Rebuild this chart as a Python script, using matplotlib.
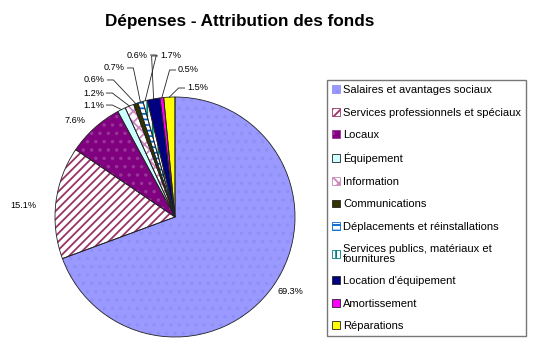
import numpy as np
import matplotlib
matplotlib.use("Agg")
import matplotlib.pyplot as plt
from matplotlib.patches import Patch

plt.rcParams['font.family'] = ['Liberation Sans', 'DejaVu Sans']
plt.rcParams['hatch.linewidth'] = 1.3

categories = ["Salaires et avantages sociaux",
              "Services professionnels et spéciaux",
              "Locaux",
              "Équipement",
              "Information",
              "Communications",
              "Déplacements et réinstallations",
              "Services publics, matériaux et\nfournitures",
              "Location d'équipement",
              "Amortissement",
              "Réparations"]
values = [69.3, 15.1, 7.6, 1.1, 1.2, 0.6, 0.7, 0.6, 1.7, 0.5, 1.5]
labels = ["69.3%", "15.1%", "7.6%", "1.1%", "1.2%", "0.6%", "0.7%",
          "0.6%", "1.7%", "0.5%", "1.5%"]

# fill, hatch, hatch colour
faces = ['#9999FF', 'white', '#800080', '#CCFFFF', 'white', '#333300',
         'white', 'white', '#000080', '#FF00FF', '#FFFF00']
hatches = ['..', '////', '..', None, 'xxx', None, '---', '|||', None, None, None]
hcolors = ['#8F8FF4', '#993366', '#973597', '#CCFFFF', '#CC88BB', '#333300',
           '#0066CC', '#008080', '#000080', '#FF00FF', '#FFFF00']

# label anchor (in pie radius units), alignment, leader line
lab_pos = [(0.85, -0.625, 'left', False), (-1.158, 0.10, 'right', False),
           (-0.742, 0.808, 'right', False), (-0.592, 0.933, 'right', True),
           (-0.592, 1.033, 'right', True), (-0.583, 1.142, 'right', True),
           (-0.417, 1.242, 'right', True), (-0.225, 1.35, 'right', True),
           (-0.125, 1.342, 'left', True), (0.025, 1.225, 'left', True),
           (0.10, 1.075, 'left', True)]

fig = plt.figure(figsize=(5.36, 3.51), dpi=100)
fig.text(0.448, 0.94, "Dépenses - Attribution des fonds", ha='center',
         va='center', fontsize=12.3, fontweight='bold')

ax = fig.add_axes([55 / 536, 14 / 351, 240 / 536, 240 / 351])
wedges, _ = ax.pie(values, colors=faces, startangle=90, counterclock=False,
                   wedgeprops=dict(linewidth=0))
for w, h, hc in zip(wedges, hatches, hcolors):
    w.set_edgecolor(hc)
    if h:
        w.set_hatch(h)
ax.pie(values, startangle=90, counterclock=False,
       wedgeprops=dict(fill=False, edgecolor='#222222', linewidth=0.6))
ax.set_xlim(-1, 1)
ax.set_ylim(-1, 1)
ax.set_aspect('equal')
ax.axis('off')

for w, lab, (tx, ty, ha, lead) in zip(wedges, labels, lab_pos):
    ax.text(tx, ty, lab, ha=ha, va='center', fontsize=6.6, clip_on=False)
    if lead:
        mid = np.deg2rad((w.theta1 + w.theta2) / 2)
        ex, ey = np.cos(mid) * 1.0, np.sin(mid) * 1.0
        s = 1 if ha == 'right' else -1
        ax.plot([tx + s * 0.02, tx + s * 0.07, ex], [ty, ty, ey],
                color='#222222', linewidth=0.6, clip_on=False)

handles = [Patch(facecolor=f, edgecolor=(hc if h else '#222222'), hatch=h,
                 linewidth=0.6)
           for f, h, hc in zip(faces, hatches, hcolors)]
leg = fig.legend(handles, categories, loc='upper left',
                 bbox_to_anchor=(327 / 536, 1 - 80 / 351), fontsize=8,
                 frameon=True, fancybox=False, edgecolor='#555555',
                 handlelength=0.7, handleheight=0.7, handletextpad=0.3,
                 labelspacing=1.13, borderpad=0.45, borderaxespad=0)
leg.get_frame().set_linewidth(1.0)
for t in leg.get_texts():
    t.set_linespacing(0.9)

fig.savefig("out.png", dpi=100)
